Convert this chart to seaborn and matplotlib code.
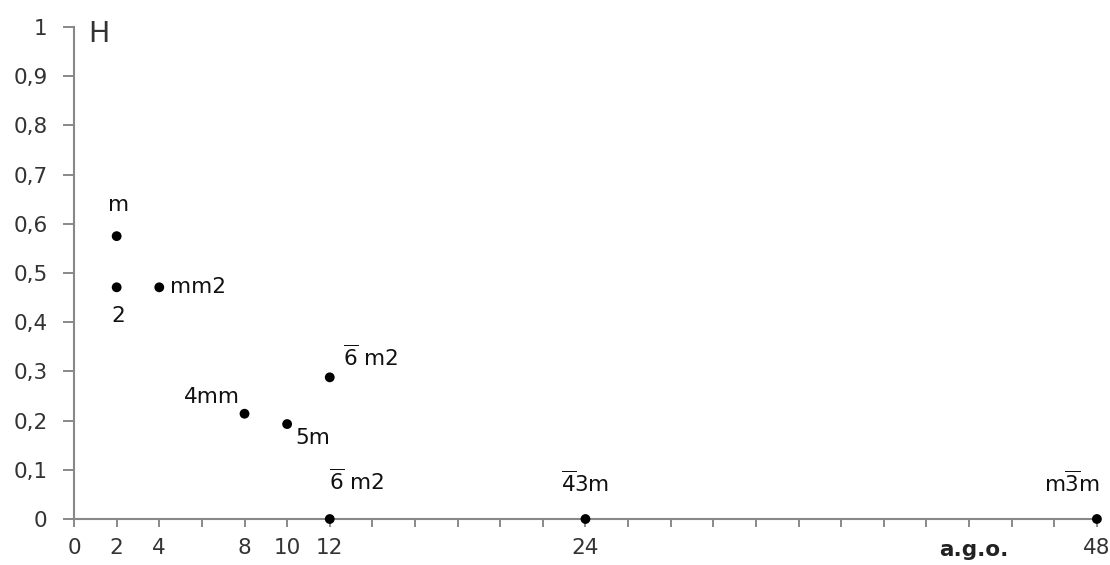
#!/usr/bin/env python3
"""Entropy H versus order of the point group (a.g.o.)."""

import matplotlib
matplotlib.use("Agg")
import matplotlib.pyplot as plt
import seaborn as sns
import pandas as pd

# Data
group_order = [2, 2, 4, 8, 10, 12, 12, 24, 48]
h_values = [0.575, 0.471, 0.471, 0.214, 0.193, 0.288, 0.0, 0.0, 0.0]
group_names = ["m", "2", "mm2", "4mm", "5m",
               r"$\overline{\mathrm{6}}$ m2", r"$\overline{\mathrm{6}}$ m2",
               r"$\overline{\mathrm{4}}$3m", r"m$\overline{\mathrm{3}}$m"]
x_ticks = list(range(0, 49, 2))
x_labelled = [0, 2, 4, 8, 10, 12, 24, 48]
y_ticks = [0, 0.1, 0.2, 0.3, 0.4, 0.5, 0.6, 0.7, 0.8, 0.9, 1]

# label placement (pixel offset from the dot, horizontal alignment)
label_offsets = [(2, 31, "center"), (2, -29, "center"), (11, 0, "left"),
                 (-5, 17, "right"), (8, -14, "left"), (13, 20, "left"),
                 (-1, 38, "left"), (0, 36, "center"), (3, 36, "right")]

sns.set_style("ticks")
plt.rcParams["font.family"] = ["DejaVu Sans"]
plt.rcParams["mathtext.fontset"] = "dejavusans"

df = pd.DataFrame({"ago": group_order, "H": h_values, "name": group_names})

fig = plt.figure(figsize=(11.1, 5.65), dpi=100)
ax = fig.add_axes([0.0667, 0.0814, 0.9215, 0.8707])

sns.scatterplot(data=df, x="ago", y="H", color="black", s=50,
                edgecolor="none", ax=ax, clip_on=False, zorder=5)

for (_, row), (dx, dy, ha) in zip(df.iterrows(), label_offsets):
    ax.annotate(row["name"], (row["ago"], row["H"]), xytext=(dx, dy),
                textcoords="offset pixels", ha=ha, va="center",
                fontsize=15.5, color="#111111")

ax.set_xlim(0, 48)
ax.set_ylim(0, 1)
ax.set_xticks(x_ticks)
ax.set_xticklabels([str(t) if t in x_labelled else "" for t in x_ticks])
ax.set_yticks(y_ticks)
ax.set_yticklabels([("%g" % t).replace(".", ",") for t in y_ticks])
ax.tick_params(axis="both", colors="#808080", labelcolor="#333333",
               labelsize=15.5, width=1.3, length=6)
ax.tick_params(axis="x", pad=8)
ax.tick_params(axis="y", pad=11, length=8)

sns.despine(ax=ax)
for side in ["left", "bottom"]:
    ax.spines[side].set_color("#888888")
    ax.spines[side].set_linewidth(1.5)

ax.set_xlabel("")
ax.set_ylabel("")
ax.text(0.0245, 0.986, "H", transform=ax.transAxes, fontsize=20.5,
        color="#333333", ha="center", va="center")
ax.text(0.88, -0.063, "a.g.o.", transform=ax.transAxes, fontsize=15.5,
        fontweight="bold", color="#222222", ha="center", va="center")

fig.savefig("out.png", dpi=100)
